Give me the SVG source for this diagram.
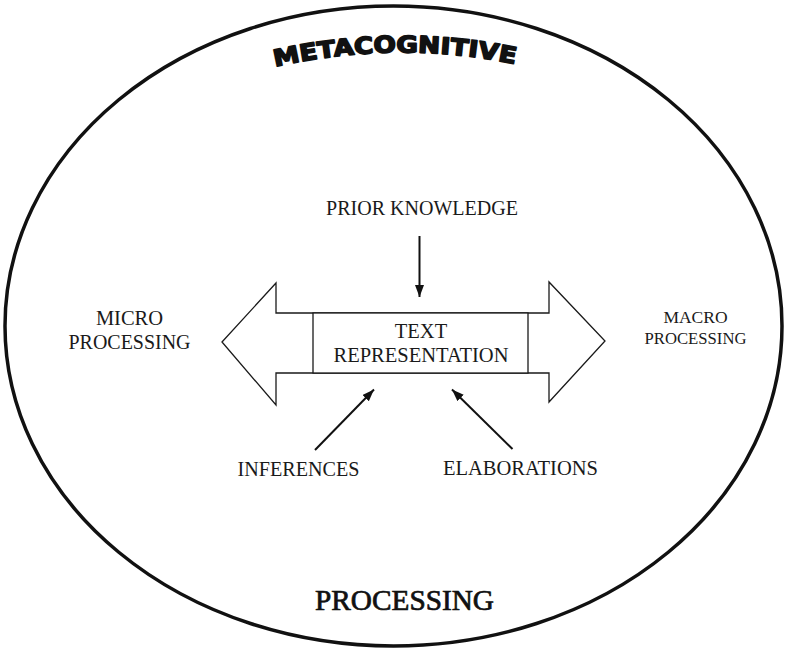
<svg xmlns="http://www.w3.org/2000/svg" width="786" height="649" viewBox="0 0 786 649">
  <style>
    .lbl { font-family: "Liberation Serif", "Times New Roman", serif; font-size: 20.5px; fill: #1a1a1a; text-anchor: middle; }
    .small { font-size: 17.5px; }
    .outline { fill: #fff; stroke: #1a1a1a; stroke-width: 1.3; }
    .conn { stroke: #111; stroke-width: 2; fill: none; marker-end: url(#head); }
  </style>
  <defs>
    <marker id="head" markerUnits="userSpaceOnUse" markerWidth="13" markerHeight="10" refX="12" refY="4.5" orient="auto">
      <path d="M0,0 L12,4.5 L0,9 Z" fill="#111"/>
    </marker>
    <path id="arcTop" d="M275,67 A560,560 0 0 1 517,64.5"/>
  </defs>

  <rect width="786" height="649" fill="#fff"/>

  <!-- outer boundary: metacognitive processing -->
  <g id="boundary">
    <ellipse cx="393.5" cy="326" rx="388.5" ry="320" fill="none" stroke="#111" stroke-width="3.5"/>
    <text font-family="'DejaVu Sans', 'Liberation Sans', sans-serif" font-weight="bold" font-size="23" fill="#111" stroke="#111" stroke-width="1.6" stroke-linejoin="round">
      <textPath href="#arcTop" textLength="242" lengthAdjust="spacingAndGlyphs">METACOGNITIVE</textPath>
    </text>
    <text x="404.5" y="609.5" font-family="'Liberation Serif', serif" font-size="28.5" fill="#111" stroke="#111" stroke-width="0.7" text-anchor="middle" textLength="179" lengthAdjust="spacingAndGlyphs">PROCESSING</text>
  </g>

  <!-- central double arrow with the text representation box -->
  <g id="text-representation">
    <polygon class="outline" points="222,342 276,283 276,313 549,313 549,282 605,341 549,402 549,373 276,373 276,405"/>
    <rect class="outline" x="313" y="313" width="215" height="60"/>
    <text class="lbl" x="421" y="338">TEXT</text>
    <text class="lbl" x="421" y="362" textLength="175" lengthAdjust="spacingAndGlyphs">REPRESENTATION</text>
  </g>

  <g id="micro-processing">
    <text class="lbl" x="129.5" y="325">MICRO</text>
    <text class="lbl" x="129.5" y="348.5" textLength="122" lengthAdjust="spacingAndGlyphs">PROCESSING</text>
  </g>

  <g id="macro-processing">
    <text class="lbl small" x="695.5" y="322.5">MACRO</text>
    <text class="lbl small" x="695.5" y="343.5" textLength="102" lengthAdjust="spacingAndGlyphs">PROCESSING</text>
  </g>

  <g id="prior-knowledge">
    <text class="lbl" x="422" y="214.5" textLength="192" lengthAdjust="spacingAndGlyphs">PRIOR KNOWLEDGE</text>
  </g>

  <g id="inferences">
    <text class="lbl" x="298.5" y="476" textLength="122" lengthAdjust="spacingAndGlyphs">INFERENCES</text>
  </g>

  <g id="elaborations">
    <text class="lbl" x="520.5" y="475" textLength="155" lengthAdjust="spacingAndGlyphs">ELABORATIONS</text>
  </g>

  <!-- connectors -->
  <g id="connectors">
    <line class="conn" x1="419.5" y1="236" x2="419.5" y2="297"/>
    <line class="conn" x1="315" y1="450" x2="374" y2="389.5"/>
    <line class="conn" x1="512.5" y1="449" x2="452" y2="389.5"/>
  </g>
</svg>
